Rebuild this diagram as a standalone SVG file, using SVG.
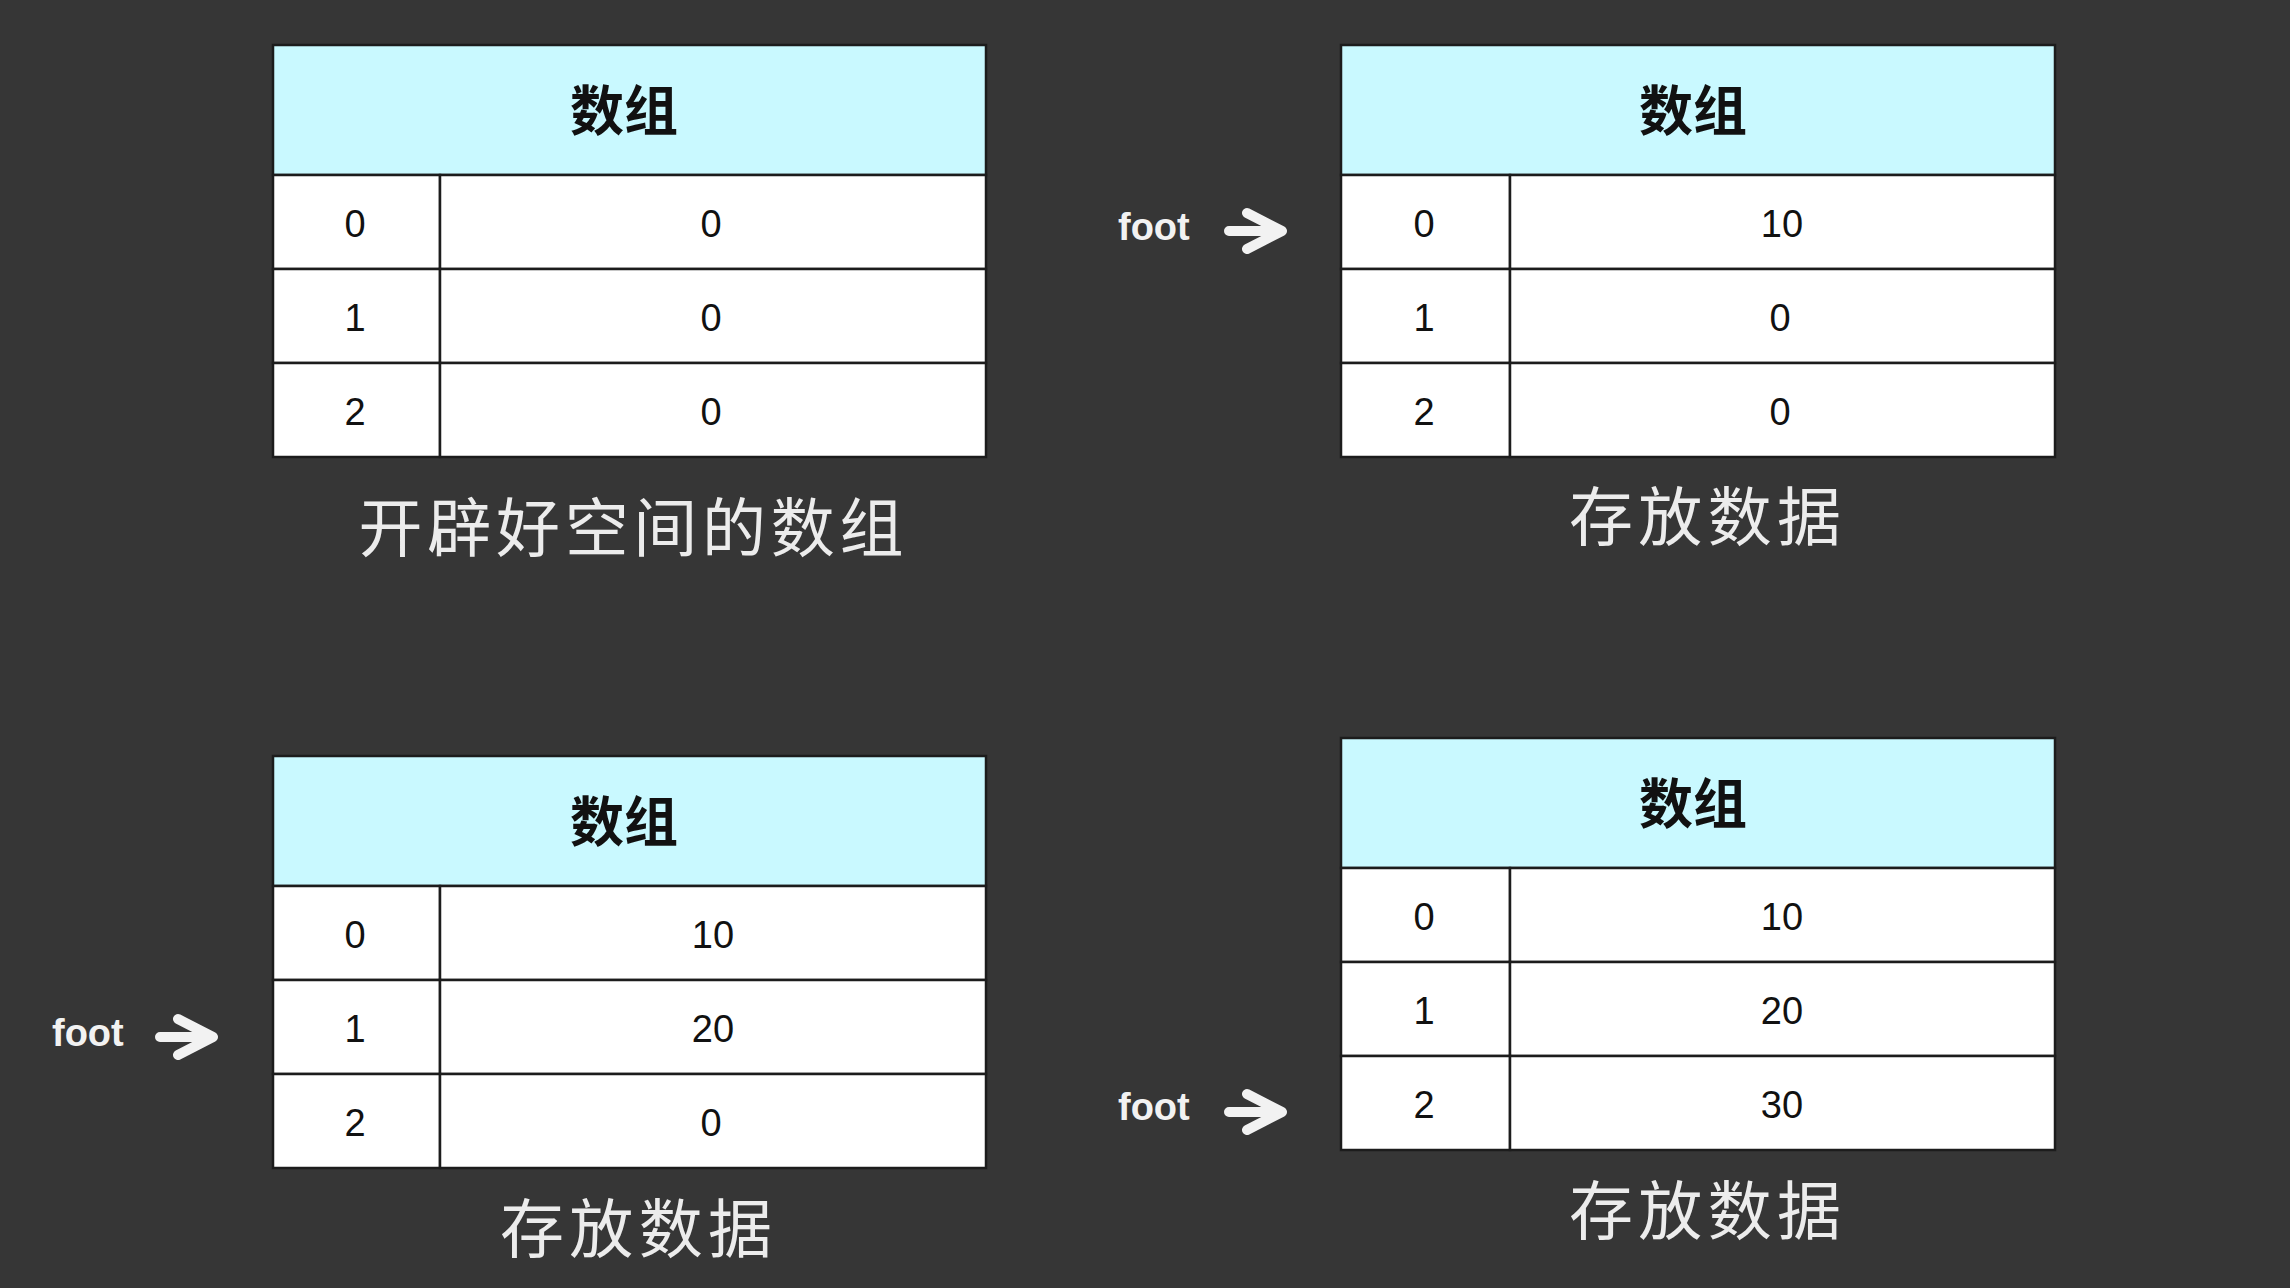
<svg xmlns="http://www.w3.org/2000/svg" xmlns:xlink="http://www.w3.org/1999/xlink" width="2290" height="1288" viewBox="0 0 2290 1288">
  <style>
    .bg { fill: #363636; }
    .hdr { fill: #c9f9ff; stroke: #1c1c1c; stroke-width: 2.5; }
    .cell { fill: #ffffff; stroke: #1c1c1c; stroke-width: 2.5; }
    .ttl { font-family: "Noto Sans CJK SC", "Noto Sans", sans-serif; font-size: 54px; font-weight: bold; fill: #111111; text-anchor: middle; dominant-baseline: central; }
    .num { font-family: "Liberation Sans", Arial, sans-serif; font-size: 38px; fill: #111111; text-anchor: middle; dominant-baseline: central; }
    .cap { font-family: "Noto Sans CJK SC", "Noto Sans", sans-serif; font-size: 64px; fill: #ececec; text-anchor: middle; dominant-baseline: central; }
    .foot { font-family: "Liberation Sans", Arial, sans-serif; font-size: 38px; font-weight: bold; fill: #f2f2f2; }
    .arr { fill: none; stroke: #f2f2f2; stroke-width: 10; stroke-linecap: round; stroke-linejoin: round; }
  </style>
  <defs>
    <g id="arrow">
      <path class="arr" d="M0 0 H50 M18 -18 L53 0 L18 18"/>
    </g>
  </defs>
  <rect class="bg" x="0" y="0" width="2290" height="1288"/>

  <g id="table-1">
    <rect class="hdr" x="273" y="45" width="713" height="130"/>
    <rect class="cell" x="273" y="175" width="167" height="94"/>
    <rect class="cell" x="440" y="175" width="546" height="94"/>
    <rect class="cell" x="273" y="269" width="167" height="94"/>
    <rect class="cell" x="440" y="269" width="546" height="94"/>
    <rect class="cell" x="273" y="363" width="167" height="94"/>
    <rect class="cell" x="440" y="363" width="546" height="94"/>
    <text class="ttl" x="624" y="107">数组</text>
    <text class="num" x="355" y="224">0</text>
    <text class="num" x="711" y="224">0</text>
    <text class="num" x="355" y="318">1</text>
    <text class="num" x="711" y="318">0</text>
    <text class="num" x="355" y="412">2</text>
    <text class="num" x="711" y="412">0</text>
    <text class="cap" x="631" y="523" textLength="545" lengthAdjust="spacing">开辟好空间的数组</text>
  </g>

  <g id="table-2">
    <rect class="hdr" x="1341" y="45" width="714" height="130"/>
    <rect class="cell" x="1341" y="175" width="169" height="94"/>
    <rect class="cell" x="1510" y="175" width="545" height="94"/>
    <rect class="cell" x="1341" y="269" width="169" height="94"/>
    <rect class="cell" x="1510" y="269" width="545" height="94"/>
    <rect class="cell" x="1341" y="363" width="169" height="94"/>
    <rect class="cell" x="1510" y="363" width="545" height="94"/>
    <text class="ttl" x="1693" y="107">数组</text>
    <text class="num" x="1424" y="224">0</text>
    <text class="num" x="1782" y="224">10</text>
    <text class="num" x="1424" y="318">1</text>
    <text class="num" x="1780" y="318">0</text>
    <text class="num" x="1424" y="412">2</text>
    <text class="num" x="1780" y="412">0</text>
    <text class="cap" x="1705" y="512" textLength="272" lengthAdjust="spacing">存放数据</text>
  </g>

  <g id="table-3">
    <rect class="hdr" x="273" y="756" width="713" height="130"/>
    <rect class="cell" x="273" y="886" width="167" height="94"/>
    <rect class="cell" x="440" y="886" width="546" height="94"/>
    <rect class="cell" x="273" y="980" width="167" height="94"/>
    <rect class="cell" x="440" y="980" width="546" height="94"/>
    <rect class="cell" x="273" y="1074" width="167" height="94"/>
    <rect class="cell" x="440" y="1074" width="546" height="94"/>
    <text class="ttl" x="624" y="818">数组</text>
    <text class="num" x="355" y="935">0</text>
    <text class="num" x="713" y="935">10</text>
    <text class="num" x="355" y="1029">1</text>
    <text class="num" x="713" y="1029">20</text>
    <text class="num" x="355" y="1123">2</text>
    <text class="num" x="711" y="1123">0</text>
    <text class="cap" x="636" y="1224" textLength="272" lengthAdjust="spacing">存放数据</text>
  </g>

  <g id="table-4">
    <rect class="hdr" x="1341" y="738" width="714" height="130"/>
    <rect class="cell" x="1341" y="868" width="169" height="94"/>
    <rect class="cell" x="1510" y="868" width="545" height="94"/>
    <rect class="cell" x="1341" y="962" width="169" height="94"/>
    <rect class="cell" x="1510" y="962" width="545" height="94"/>
    <rect class="cell" x="1341" y="1056" width="169" height="94"/>
    <rect class="cell" x="1510" y="1056" width="545" height="94"/>
    <text class="ttl" x="1693" y="800">数组</text>
    <text class="num" x="1424" y="917">0</text>
    <text class="num" x="1782" y="917">10</text>
    <text class="num" x="1424" y="1011">1</text>
    <text class="num" x="1782" y="1011">20</text>
    <text class="num" x="1424" y="1105">2</text>
    <text class="num" x="1782" y="1105">30</text>
    <text class="cap" x="1705" y="1206" textLength="272" lengthAdjust="spacing">存放数据</text>
  </g>

  <g id="pointer-1">
    <text class="foot" x="1118" y="240">foot</text>
  </g>
  <g id="pointer-2">
    <text class="foot" x="52" y="1046">foot</text>
  </g>
  <g id="pointer-3">
    <text class="foot" x="1118" y="1120">foot</text>
  </g>

  <g id="connectors">
    <use xlink:href="#arrow" x="1229" y="231"/>
    <use xlink:href="#arrow" x="160" y="1037"/>
    <use xlink:href="#arrow" x="1229" y="1112"/>
  </g>
</svg>
